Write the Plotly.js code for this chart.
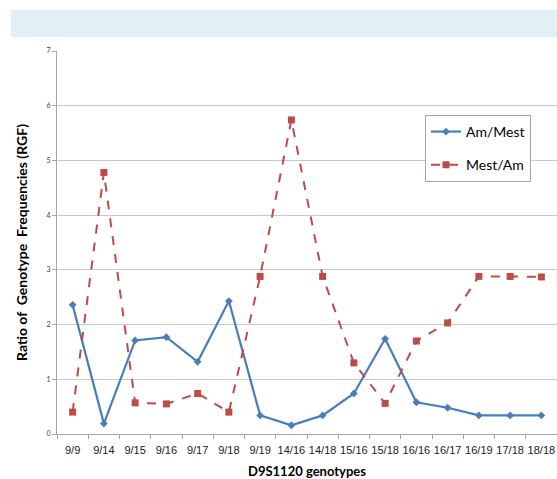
<!DOCTYPE html>
<html>
<head>
<meta charset="utf-8">
<script src="https://cdn.plot.ly/plotly-3.0.1.min.js"></script>
<style>html,body{margin:0;padding:0;background:#fff;}#chart{width:557px;height:479px;}</style>
</head>
<body>
<div id="chart"></div>
<script>
const genotypes = ["9/9","9/14","9/15","9/16","9/17","9/18","9/19","14/16","14/18","15/16","15/18","16/16","16/17","16/19","17/18","18/18"];
const amMest = [2.36,0.19,1.71,1.77,1.32,2.43,0.34,0.16,0.34,0.74,1.74,0.58,0.48,0.34,0.34,0.34];
const mestAm = [0.40,4.78,0.57,0.55,0.74,0.40,2.88,5.74,2.88,1.30,0.56,1.70,2.03,2.88,2.88,2.87];
const yTicks = [0,1,2,3,4,5,6,7];

const font = "Lato, 'Noto Sans', sans-serif";
const tickFamily = "'Liberation Sans', Arial, sans-serif";
const traces = [
  {x: genotypes, y: amMest, name: "Am/Mest", type: "scatter", mode: "lines+markers",
   legendgroup: "a",
   line: {color: "#4a7ebb", width: 2.2},
   marker: {symbol: "diamond", size: 6, color: "#4a7ebb"}},
  {x: genotypes, y: mestAm, name: "Mest/Am", type: "scatter", mode: "lines+markers",
   legendgroup: "b",
   line: {color: "#be4b48", width: 2, dash: "dash"},
   marker: {symbol: "square", size: 7, color: "#be4b48"}}
];
const layout = {
  width: 557, height: 479,
  margin: {l: 57, r: 0, t: 51, b: 45},
  paper_bgcolor: "#fff", plot_bgcolor: "#fff",
  font: {family: font, color: "#000"},
  showlegend: true,
  legend: {x: 0.736, y: 0.833, xanchor: "left", yanchor: "top",
    bordercolor: "#a6a6a6", borderwidth: 1, bgcolor: "#fff",
    font: {size: 14, color: "#000", family: font},
    tracegroupgap: 12, traceorder: "grouped", itemwidth: 30},
  xaxis: {type: "category", range: [-0.5, 15.5], tickson: "boundaries",
    ticks: "outside", ticklen: 4, tickcolor: "#a6a6a6", tickangle: 0,
    ticklabelstandoff: 6,
    showline: true, linecolor: "#a6a6a6", linewidth: 1,
    showgrid: false, zeroline: false, automargin: false,
    tickfont: {size: 11, color: "#1a1a1a", family: tickFamily},
    title: {text: "D9S1120 genotypes", font: {size: 13, color: "#000", family: font, weight: "bold"}, standoff: 12}},
  yaxis: {range: [0, 7], tickvals: yTicks, ticktext: yTicks.map(String),
    ticks: "outside", ticklen: 4, tickcolor: "#a6a6a6",
    showline: true, linecolor: "#a6a6a6", linewidth: 1,
    gridcolor: "#c8c8c8", gridwidth: 1, zeroline: false, automargin: false,
    tickfont: {size: 7, color: "#404040", family: font},
    title: {text: "Ratio of  Genotype  Frequencies (RGF)", font: {size: 14, color: "#000", family: font, weight: "bold"}, standoff: 15}},
  shapes: [
    {type: "rect", xref: "paper", yref: "paper", x0: -0.092, x1: 1, y0: 1.0366, y1: 1.107,
     fillcolor: "#e2f0f5", line: {width: 0}, layer: "below"}
  ]
};
Plotly.newPlot("chart", traces, layout, {displayModeBar: false, staticPlot: true});
</script>
</body>
</html>
